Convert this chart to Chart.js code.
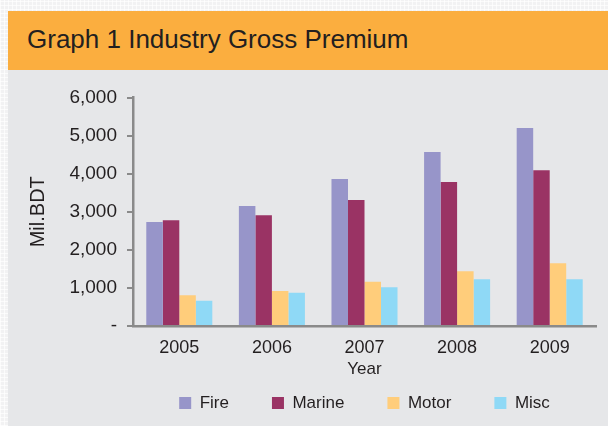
<!DOCTYPE html>
<html>
<head>
<meta charset="utf-8">
<script src="https://cdn.jsdelivr.net/npm/chart.js@4/dist/chart.umd.min.js"></script>
<style>
  html, body { margin: 0; padding: 0; }
  body {
    width: 608px; height: 426px; position: relative; overflow: hidden;
    background-color: #f2f2f3;
    background-image:
      repeating-linear-gradient(0deg, rgba(255,255,255,0.7) 0 1px, transparent 1px 4px),
      repeating-linear-gradient(90deg, rgba(255,255,255,0.7) 0 1px, transparent 1px 4px);
  }
  #header { position: absolute; left: 8px; top: 11px; width: 600px; height: 59px; background: #fbae3f; }
  #panel { position: absolute; left: 8px; top: 70px; width: 600px; height: 356px; background: #e6e7e9; }
  #title { position: absolute; left: 27px; top: 24px; line-height: 30px; font-family: "Liberation Sans", Arial, sans-serif; font-size: 26px; color: #231f20; white-space: nowrap; }
  #c { position: absolute; left: 0; top: 0; }
</style>
</head>
<body>
<div id="header"></div>
<div id="panel"></div>
<div id="title">Graph 1 Industry Gross Premium</div>
<canvas id="c" width="608" height="426"></canvas>
<script>
const years = ['2005', '2006', '2007', '2008', '2009'];
const fire   = [2730, 3150, 3860, 4570, 5200];
const marine = [2780, 2910, 3310, 3780, 4090];
const motor  = [810, 920, 1160, 1440, 1650];
const misc   = [660, 870, 1020, 1230, 1230];
const yTickLabels = ['-', '1,000', '2,000', '3,000', '4,000', '5,000', '6,000'];

const FONT = '"Liberation Sans", Arial, sans-serif';
const TXT = '#231f20';
const AX = '#8a8a8a';
Chart.defaults.font.family = FONT;
Chart.defaults.color = TXT;

new Chart(document.getElementById('c'), {
  type: 'bar',
  data: {
    labels: years,
    datasets: [
      { label: 'Fire',   data: fire,   backgroundColor: '#9795c9', borderWidth: 0 },
      { label: 'Marine', data: marine, backgroundColor: '#9a3364', borderWidth: 0 },
      { label: 'Motor',  data: motor,  backgroundColor: '#ffcd7b', borderWidth: 0 },
      { label: 'Misc',   data: misc,   backgroundColor: '#8fd9f6', borderWidth: 0 }
    ]
  },
  options: {
    responsive: false,
    devicePixelRatio: 1,
    animation: false,
    datasets: { bar: { categoryPercentage: 0.713, barPercentage: 1.0 } },
    layout: { padding: { top: 97.5, left: 0, right: 12, bottom: 4.5 } },
    plugins: {
      tooltip: { enabled: false },
      legend: {
        position: 'bottom',
        fullSize: false,
        title: { display: true, text: '', font: { size: 1 }, padding: { top: -8.7, bottom: 0 } },
        labels: {
          boxWidth: 12, boxHeight: 12, padding: 43,
          color: TXT, font: { size: 17 }
        }
      }
    },
    scales: {
      x: {
        afterFit: s => { s.height = 33; },
        grid: { display: false, drawTicks: false },
        border: { color: AX, width: 2.5 },
        ticks: { padding: 11, color: TXT, font: { size: 18 }, maxRotation: 0 },
        title: { display: true, text: 'Year', color: TXT, font: { size: 17 }, padding: { top: 0, bottom: -20.2 } }
      },
      y: {
        min: 0, max: 6000,
        afterFit: s => { s.width = 133; },
        grid: { drawOnChartArea: false, drawTicks: true, tickLength: 6, color: AX, lineWidth: 2 },
        border: { color: AX, width: 2.5 },
        ticks: {
          stepSize: 1000, padding: 10, color: TXT, font: { size: 19 },
          callback: (v, i) => yTickLabels[i]
        },
        title: { display: true, text: 'Mil.BDT', color: TXT, font: { size: 20 }, padding: { top: 26, bottom: 0 } }
      }
    }
  }
});
</script>
</body>
</html>
